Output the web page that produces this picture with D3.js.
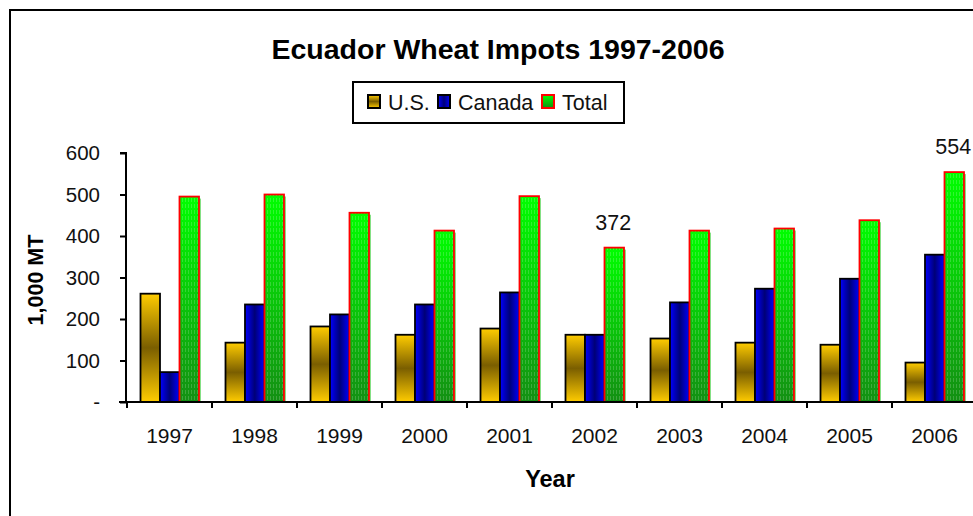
<!DOCTYPE html>
<html>
<head>
<meta charset="utf-8">
<script src="https://cdn.jsdelivr.net/npm/d3@7"></script>
<style>
  body { margin: 0; background: #fff; }
  svg { display: block; font-family: "Liberation Sans", Arial, sans-serif; }
</style>
</head>
<body>
<div id="chart"></div>
<script>
const years = ["1997", "1998", "1999", "2000", "2001", "2002", "2003", "2004", "2005", "2006"];
const usValues = [261, 143, 182, 162, 177, 162, 153, 143, 138, 95];
const canadaValues = [72, 235, 211, 235, 264, 162, 240, 273, 297, 355];
const totalValues = [495, 500, 456, 413, 496, 372, 413, 418, 438, 554];
const seriesNames = ["U.S.", "Canada", "Total"];
const yTicks = [0, 100, 200, 300, 400, 500, 600];
const labelledYears = ["2002", "2006"];

const width = 973, height = 516;
const x0 = 127, x1 = 977, yTop = 153, yBottom = 402;

const svg = d3.select("#chart").append("svg").attr("width", width).attr("height", height);
const defs = svg.append("defs");

// US: vertical gold gradient
const gUs = defs.append("linearGradient").attr("id", "gUs").attr("x1", 0).attr("y1", 0).attr("x2", 0).attr("y2", 1);
[[0, "#ffcc00"], [0.5, "#7a5e00"], [1, "#ffcc00"]].forEach(d => gUs.append("stop").attr("offset", d[0]).attr("stop-color", d[1]));
// Canada: horizontal blue gradient
const gCa = defs.append("linearGradient").attr("id", "gCa").attr("x1", 0).attr("y1", 0).attr("x2", 1).attr("y2", 0);
[[0, "#0000ff"], [0.5, "#000077"], [1, "#0000ff"]].forEach(d => gCa.append("stop").attr("offset", d[0]).attr("stop-color", d[1]));
// Total: green fading down, with stripes
const gTo = defs.append("linearGradient").attr("id", "gTo").attr("x1", 0).attr("y1", 0).attr("x2", 0).attr("y2", 1);
[[0, "#00ff00"], [1, "#138f13"]].forEach(d => gTo.append("stop").attr("offset", d[0]).attr("stop-color", d[1]));
const pat = defs.append("pattern").attr("id", "pTo").attr("patternUnits", "userSpaceOnUse").attr("width", 3).attr("height", 6);
pat.append("rect").attr("x", 1).attr("y", 0).attr("width", 1).attr("height", 4).attr("fill", "#ffffff").attr("opacity", 0.18);

const fills = ["url(#gUs)", "url(#gCa)", null];
const strokes = ["#000", "#000", "#ff0000"];

// outer frame
svg.append("path").attr("d", `M10,${height + 5} V10 H${width + 5}`).attr("fill", "none").attr("stroke", "#000").attr("stroke-width", 2);

const x = d3.scaleBand().domain(years).range([x0, x1]);
const xs = d3.scaleBand().domain(seriesNames).range([13.5, x.bandwidth() - 13]);
const y = d3.scaleLinear().domain([0, 600]).range([yBottom, yTop]);

const rows = years.map((yr, i) => ({ year: yr, vals: [usValues[i], canadaValues[i], totalValues[i]] }));

const groups = svg.selectAll("g.yr").data(rows).enter().append("g").attr("class", "yr")
  .attr("transform", d => `translate(${x(d.year)},0)`);

// total bars shadow
groups.append("rect")
  .attr("x", xs("Total") + 2).attr("y", d => y(d.vals[2]) + 2)
  .attr("width", xs.bandwidth()).attr("height", d => yBottom - y(d.vals[2]) - 2)
  .attr("fill", "#33cc33").attr("opacity", 0.6);

seriesNames.forEach((s, k) => {
  const sel = groups.append("rect")
    .attr("x", xs(s)).attr("y", d => y(d.vals[k]))
    .attr("width", xs.bandwidth()).attr("height", d => yBottom - y(d.vals[k]));
  if (k < 2) {
    sel.attr("fill", fills[k]).attr("stroke", strokes[k]).attr("stroke-width", 1.8);
  } else {
    sel.attr("fill", "url(#gTo)");
    groups.append("rect")
      .attr("x", xs(s)).attr("y", d => y(d.vals[k]))
      .attr("width", xs.bandwidth()).attr("height", d => yBottom - y(d.vals[k]))
      .attr("fill", "url(#pTo)").attr("stroke", strokes[k]).attr("stroke-width", 1.8);
  }
});

// data labels
groups.filter(d => labelledYears.includes(d.year)).append("text")
  .attr("x", xs("Total") + xs.bandwidth() / 2 - 1)
  .attr("y", d => y(d.vals[2]) - 18)
  .attr("text-anchor", "middle").attr("font-size", 21.5).attr("fill", "#111")
  .text(d => d.vals[2]);

// axes
const yAxis = d3.axisLeft(y).tickValues(yTicks).tickSize(6).tickPadding(20)
  .tickFormat(d => d === 0 ? "-" : d);
const gy = svg.append("g").attr("transform", `translate(${x0 - 1},0)`).call(yAxis);
gy.select(".domain").attr("stroke-width", 2).attr("d", `M-6,${yTop}H0V${yBottom}`);
gy.selectAll(".tick line").attr("stroke-width", 2);
gy.selectAll("text").attr("font-size", 20.5).attr("fill", "#111");

const xAxis = d3.axisBottom(x).tickSize(0).tickPadding(26);
const gx = svg.append("g").attr("transform", `translate(0,${yBottom})`).call(xAxis);
gx.select(".domain").attr("stroke-width", 2).attr("d", `M${x0 - 8},0H${x1}`);
gx.selectAll("text").attr("font-size", 21).attr("fill", "#111");
gx.selectAll(".sep").data(years).enter().append("line")
  .attr("x1", d => x(d)).attr("x2", d => x(d)).attr("y1", 0).attr("y2", 6)
  .attr("stroke", "#000").attr("stroke-width", 2);

// titles
svg.append("text").attr("x", 498).attr("y", 59).attr("text-anchor", "middle")
  .attr("font-size", 28.5).attr("font-weight", "bold").text("Ecuador Wheat Impots 1997-2006");
svg.append("text").attr("x", 550).attr("y", 487).attr("text-anchor", "middle")
  .attr("font-size", 23.5).attr("font-weight", "bold").text("Year");
svg.append("text").attr("transform", "translate(43,280) rotate(-90)").attr("text-anchor", "middle")
  .attr("font-size", 21.5).attr("font-weight", "bold").text("1,000 MT");

// legend
const lg = svg.append("g");
lg.append("rect").attr("x", 353).attr("y", 82).attr("width", 271).attr("height", 41)
  .attr("fill", "#fff").attr("stroke", "#000").attr("stroke-width", 2);
const legendX = [368, 438, 542];
seriesNames.forEach((s, k) => {
  lg.append("rect").attr("x", legendX[k]).attr("y", 95).attr("width", 12).attr("height", 13)
    .attr("fill", k < 2 ? fills[k] : "url(#gTo)").attr("stroke", strokes[k]).attr("stroke-width", 2);
  lg.append("text").attr("x", legendX[k] + 20).attr("y", 110).attr("font-size", 21.5).attr("fill", "#111").text(s);
});
</script>
</body>
</html>
